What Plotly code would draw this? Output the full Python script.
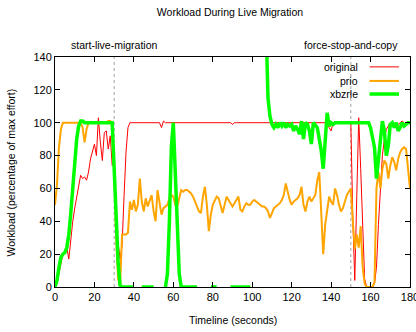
import plotly.graph_objects as go

# ---------------- data ----------------
time_s = list(range(0, 181))

original = [
    0, 2, 8, 15, 20, 22, 24, 17, 30, 40,
    48, 55, 62, 68, 66, 67, 65, 70, 78, 82,
    87, 80, 103, 88, 77, 94, 95, 84, 92, 74,
    78, 45, 27, 17, 25, 55, 82, 97, 100, 100,
    100, 100, 100, 100, 100, 100, 100, 100, 100, 100,
    100, 100, 100, 100, 97, 101, 100, 100, 100, 100,
    100, 100, 100, 100, 100, 100, 100, 100, 100, 100,
    100, 100, 100, 100, 100, 100, 100, 100, 100, 100,
    100, 100, 100, 100, 100, 100, 100, 100, 100, 100,
    99, 100, 100, 100, 100, 100, 100, 100, 100, 100,
    100, 100, 100, 100, 100, 100, 100, 100, 100, 100,
    100, 100, 100, 100, 100, 100, 100, 100, 100, 100,
    100, 100, 100, 100, 100, 100, 100, 100, 100, 100,
    100, 100, 100, 100, 100, 100, 100, 100, 100, 97,
    95, 100, 100, 100, 100, 100, 100, 100, 100, 100,
    100, 42, 4, 55, 103, 72, 35, 5, 0, 0,
    0, 0, 2, 12, 38, 62, 80, 90, 96, 98,
    100, 100, 98, 97, 99, 100, 101, 100, 98, 100,
    100,
]

prio = [
    50, 62, 85, 96, 100, 100, 100, 100, 100, 100,
    100, 100, 100, 100, 97, 88, 96, 100, 100, 100,
    100, 100, 100, 100, 100, 100, 100, 101, 101, 100,
    75, 30, 5, 1, 32, 32, 32, 33, 52, 47,
    53, 46, 50, 66, 52, 46, 54, 49, 52, 56,
    46, 40, 59, 50, 44, 48, 49, 50, 54, 56,
    55, 50, 49, 55, 59, 58, 59, 59, 58, 57,
    55, 52, 49, 46, 45, 55, 61, 50, 34, 44,
    50, 53, 55, 54, 50, 45, 50, 55, 53, 51,
    49, 51, 53, 55, 47, 46, 49, 51, 50, 50,
    52, 53, 52, 51, 50, 49, 49, 48, 46, 42,
    45, 48, 49, 50, 51, 53, 56, 63, 57, 53,
    50, 52, 53, 54, 56, 61, 50, 46, 52, 55,
    52, 54, 56, 65, 70, 45, 20, 38, 48, 55,
    52, 50, 60, 56, 50, 46, 48, 52, 56, 58,
    60, 40, 23, 32, 24, 37, 12, 2, 0, 0,
    0, 0, 3, 60, 70, 60, 72, 77, 75, 66,
    74, 79, 76, 71, 78, 82, 84, 85, 84, 72,
    60,
]

N = None
xbzrle = [
    0, 4, 12, 18, 20, 21, 24, 32, 45, 62,
    78, 90, 98, 101, 101, 100, 100, 100, 100, 100,
    100, 100, 100, 100, 100, 100, 100, 100, 100, 100,
    72, 45, 15, 1, 0, 0, 0, 0, 0, 0,
    0, N, N, N, 0, 0, 0, 0, 0, 0,
    0, N, N, N, N, N, 0, 8, 40, 85,
    100, 70, 30, 8, 0, 0, 0, 0, 0, 0,
    0, 0, 0, N, N, N, N, N, N, 0,
    0, 0, 0, N, N, N, N, N, N, 0,
    0, 0, 0, 0, 0, 0, 0, 0, 0, 0,
    N, N, N, N, N, N, N, 160, 115, 104,
    99, 97, 99, 97, 100, 98, 100, 97, 99, 98,
    99, 95, 98, 96, 93, 101, 90, 100, 99, 95,
    87, 100, 98, 97, 90, 83, 72, 88, 106, 98,
    100, 99, 100, 100, 100, 100, 100, 100, 100, 100,
    100, 100, 100, 100, 100, 100, 100, 100, 100, 100,
    97, 92, 85, 66, 78, 92, 101, 95, 80, 86,
    99, 100, 97, 100, 95, 97, 100, 98, 99, 100,
    100,
]

series_names = ["original", "prio", "xbzrle"]
event_times = [30, 150]
event_labels = ["start-live-migration", "force-stop-and-copy"]
x_ticks = list(range(0, 181, 20))
y_ticks = list(range(0, 141, 20))

# ---------------- styling ----------------
colors = {"original": "#ff0000", "prio": "#ffa500", "xbzrle": "#00ff00"}
widths = {"original": 1, "prio": 2, "xbzrle": 3.5}
FONT = "Liberation Sans, Arial, sans-serif"
TXT = 10.5
W, H = 416, 332

fig = go.Figure()
for name, vals in zip(series_names, [original, prio, xbzrle]):
    fig.add_trace(go.Scatter(
        x=time_s, y=vals, mode="lines", name=name,
        line=dict(color=colors[name], width=widths[name]),
        connectgaps=False, showlegend=False, hoverinfo="skip",
    ))

# event markers
for t, lab in zip(event_times, event_labels):
    fig.add_shape(type="line", xref="x", yref="paper", x0=t, x1=t, y0=0, y1=1,
                  line=dict(color="#a0a0a0", width=1, dash="dot"), layer="below")
    fig.add_annotation(x=t, y=1.052, xref="x", yref="paper", text=lab,
                       showarrow=False, xanchor="center", yanchor="middle",
                       font=dict(size=TXT, color="#000"))

# gnuplot-style key (text right-aligned, sample line after it)
leg_y = [0.957, 0.896, 0.839]
for name, yy in zip(series_names, leg_y):
    fig.add_annotation(x=0.858, y=yy, xref="paper", yref="paper", text=name,
                       showarrow=False, xanchor="right", yanchor="middle",
                       font=dict(size=TXT, color="#000"))
    fig.add_shape(type="line", xref="paper", yref="paper", x0=0.886, x1=0.969,
                  y0=yy, y1=yy, line=dict(color=colors[name], width=widths[name]))

# axis titles
fig.add_annotation(x=0.5, y=-0.143, xref="paper", yref="paper",
                   text="Timeline (seconds)", showarrow=False,
                   xanchor="center", yanchor="middle", font=dict(size=TXT, color="#000"))
fig.add_annotation(x=-0.125, y=0.496, xref="paper", yref="paper",
                   text="Workload (percentage of max effort)", showarrow=False,
                   textangle=-90, xanchor="center", yanchor="middle",
                   font=dict(size=TXT, color="#000"))

axis_common = dict(showgrid=False, zeroline=False, showline=True, linecolor="#000",
                   linewidth=1, mirror="ticks", ticks="inside", ticklen=5,
                   tickcolor="#000", ticklabeloverflow="allow", automargin=False,
                   tickfont=dict(size=11, color="#000", family=FONT))

fig.update_layout(
    width=W, height=H,
    margin=dict(l=55, r=6, t=57, b=45, autoexpand=False),
    paper_bgcolor="white", plot_bgcolor="white",
    font=dict(family=FONT, size=11, color="#000"),
    title=dict(text="Workload During Live Migration", x=230 / W, xref="container",
               xanchor="center", y=1 - 12 / H, yanchor="middle",
               font=dict(size=TXT, color="#000")),
    xaxis=dict(range=[0, 180], tickvals=x_ticks, **axis_common),
    yaxis=dict(range=[0, 140], tickvals=y_ticks, **axis_common),
)

fig.write_html(
    "out.html",
    config={"displayModeBar": False, "staticPlot": True},
    post_script="document.body.style.margin='0';document.body.style.overflow='hidden';",
)
